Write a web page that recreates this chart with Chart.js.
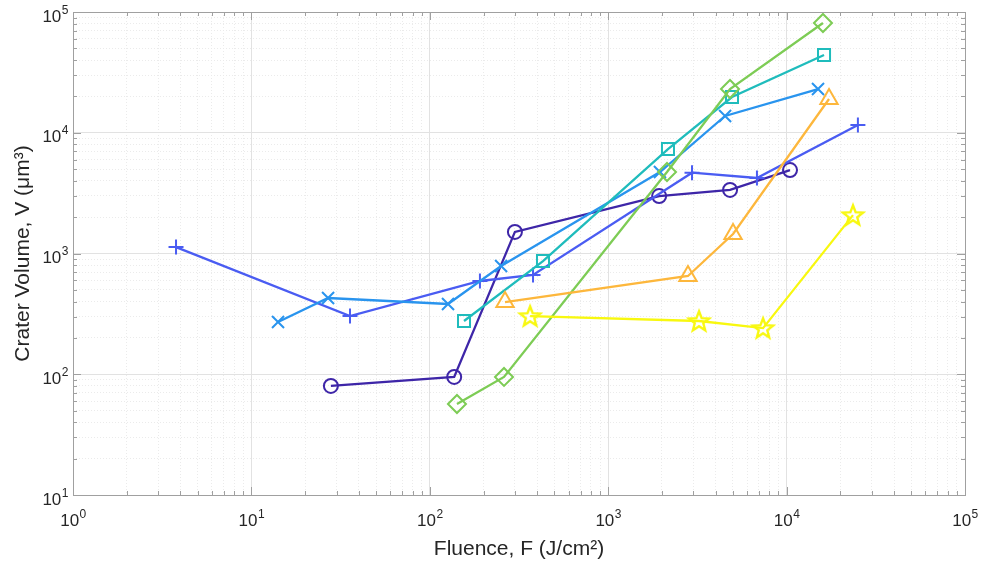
<!DOCTYPE html>
<html>
<head>
<meta charset="utf-8">
<script src="https://cdn.jsdelivr.net/npm/chart.js@4.4.0/dist/chart.umd.min.js"></script>
<style>
  body { margin: 0; background: #fff; }
  #wrap { width: 984px; height: 569px; }
</style>
</head>
<body>
<div id="wrap"><canvas id="chart" width="984" height="569"></canvas></div>
<script>
// values
let circleX = [27.9, 137, 300, 1930, 4820, 10450];
let circleY = [80, 95, 1510, 2990, 3360, 4910];

let plusX = [3.78, 35.7, 191, 379, 2950, 6820, 25100];
let plusY = [1130, 303, 592, 664, 4670, 4220, 11600];

let crossX = [14.1, 26.9, 126.5, 251, 1950, 4520, 15000];
let crossY = [271, 428, 382, 787, 4730, 13770, 23000];

let squareX = [155.5, 431, 2163, 4943, 16210];
let squareY = [276, 866, 7330, 19770, 44050];

let diamondX = [142, 260.6, 2136, 4817, 15990];
let diamondY = [56.7, 95, 4730, 23040, 81100];

let triangleX = [264, 2800, 5010, 17290];
let triangleY = [396, 651, 1450, 19030];

let starX = [365, 3230, 7380, 23560];
let starY = [303, 276, 241, 2080];

// tick labels are 10 with an exponent
let xTickValues = [1, 10, 100, 1000, 10000, 100000];
let xTickExps = ["0", "1", "2", "3", "4", "5"];
let yTickValues = [10, 100, 1000, 10000, 100000];
let yTickExps = ["1", "2", "3", "4", "5"];

const FONT = "'Liberation Sans', Arial, Helvetica, sans-serif";
const AXIS = "#a0a0a0";
const TEXT = "#262626";

function toPoints(xs, ys) {
  return xs.map((x, i) => ({x: x, y: ys[i]}));
}

function isMajor(v) {
  let l = Math.log10(v);
  return Math.abs(l - Math.round(l)) < 1e-6;
}

// 1..9 x 10^n ticks for each decade
function decadeTicks(lo, hi) {
  let out = [];
  for (let e = Math.round(Math.log10(lo)); e < Math.round(Math.log10(hi)); e++) {
    for (let s = 1; s < 10; s++) out.push({value: s * Math.pow(10, e)});
  }
  out.push({value: hi});
  return out;
}

function starMarker(color) {
  let c = document.createElement("canvas");
  c.width = 26; c.height = 26;
  let g = c.getContext("2d");
  g.strokeStyle = color;
  g.lineWidth = 2.4;
  g.lineJoin = "miter";
  g.beginPath();
  for (let i = 0; i < 10; i++) {
    let r = i % 2 === 0 ? 10.5 : 4.5;
    let a = -Math.PI / 2 + i * Math.PI / 5;
    let px = 13 + r * Math.cos(a), py = 13.8 + r * Math.sin(a);
    if (i === 0) g.moveTo(px, py); else g.lineTo(px, py);
  }
  g.closePath();
  g.stroke();
  return c;
}

function series(label, xs, ys, color, style, radius) {
  return {
    label: label,
    data: toPoints(xs, ys),
    showLine: true,
    borderColor: color,
    borderWidth: 2.3,
    pointStyle: style,
    pointRadius: radius,
    pointBorderWidth: 2,
    pointBorderColor: color,
    pointBackgroundColor: "rgba(0,0,0,0)",
    pointHoverRadius: radius,
    tension: 0
  };
}

let datasets = [
  series("o", circleX, circleY, "#3e26a8", "circle", 7),
  series("+", plusX, plusY, "#4a5cf2", "cross", 7.5),
  series("x", crossX, crossY, "#2994ee", "crossRot", 8.5),
  series("square", squareX, squareY, "#1fbcbc", "rect", 8.5),
  series("diamond", diamondX, diamondY, "#7dcc55", "rectRot", 9),
  series("triangle", triangleX, triangleY, "#fdb73c", "triangle", 10),
  series("star", starX, starY, "#f8f80f", starMarker("#f8f80f"), 13)
];
datasets.forEach((d, i) => d.order = datasets.length - i);

function drawPow(ctx, x, y, exp, align) {
  ctx.font = "17px " + FONT;
  let wb = ctx.measureText("10").width;
  ctx.font = "12px " + FONT;
  let we = ctx.measureText(exp).width;
  let left = align === "right" ? x - wb - we : x - (wb + we) / 2;
  ctx.font = "17px " + FONT;
  ctx.fillText("10", left, y);
  ctx.font = "12px " + FONT;
  ctx.fillText(exp, left + wb + 0.5, y - 8);
}

const boxPlugin = {
  id: "box",
  afterDraw(chart) {
    let ctx = chart.ctx;
    let a = chart.chartArea;
    let xs = chart.scales.x, ys = chart.scales.y;
    ctx.save();
    ctx.strokeStyle = AXIS;
    ctx.lineWidth = 1;
    ctx.beginPath();
    xs.ticks.forEach(t => {
      let p = Math.round(xs.getPixelForValue(t.value)) + 0.5;
      let len = isMajor(t.value) ? 8 : 4;
      ctx.moveTo(p, a.bottom); ctx.lineTo(p, a.bottom - len);
      ctx.moveTo(p, a.top); ctx.lineTo(p, a.top + len);
    });
    ys.ticks.forEach(t => {
      let p = Math.round(ys.getPixelForValue(t.value)) + 0.5;
      let len = isMajor(t.value) ? 8 : 4;
      ctx.moveTo(a.left, p); ctx.lineTo(a.left + len, p);
      ctx.moveTo(a.right, p); ctx.lineTo(a.right - len, p);
    });
    ctx.stroke();
    ctx.strokeRect(Math.round(a.left) + 0.5, Math.round(a.top) + 0.5,
      Math.round(a.right - a.left), Math.round(a.bottom - a.top));

    // tick labels with raised exponents
    ctx.fillStyle = TEXT;
    ctx.textBaseline = "alphabetic";
    ctx.textAlign = "left";
    xTickValues.forEach((v, i) => {
      drawPow(ctx, xs.getPixelForValue(v), a.bottom + 31, xTickExps[i], "center");
    });
    yTickValues.forEach((v, i) => {
      drawPow(ctx, a.left - 5, ys.getPixelForValue(v) + 9.5, yTickExps[i], "right");
    });
    ctx.restore();
  }
};

function gridOpts() {
  return {
    drawTicks: false,
    color: c => (c.tick && isMajor(c.tick.value)) ? "#e2e2e2" : "#ebebeb",
    lineWidth: 1
  };
}

function borderOpts() {
  return {
    display: false,
    dash: c => (c.tick && isMajor(c.tick.value)) ? [] : [1, 2]
  };
}

new Chart(document.getElementById("chart"), {
  type: "scatter",
  data: {datasets: datasets},
  options: {
    responsive: false,
    animation: false,
    events: [],
    layout: {autoPadding: false, padding: {top: 12, right: 19, left: 0, bottom: 0}},
    plugins: {legend: {display: false}, tooltip: {enabled: false}},
    scales: {
      x: {
        type: "logarithmic",
        min: 1,
        max: 100000,
        afterFit: s => { s.height = 74; },
        afterBuildTicks: s => { s.ticks = decadeTicks(1, 100000); },
        grid: gridOpts(),
        border: borderOpts(),
        ticks: {display: false, autoSkip: false},
        title: {
          display: true,
          text: "Fluence, F (J/cm²)",
          color: TEXT,
          font: {family: FONT, size: 21},
          padding: {top: 0, bottom: 7}
        }
      },
      y: {
        type: "logarithmic",
        min: 10,
        max: 100000,
        afterFit: s => { s.width = 73; },
        afterBuildTicks: s => { s.ticks = decadeTicks(10, 100000); },
        grid: gridOpts(),
        border: borderOpts(),
        ticks: {display: false, autoSkip: false},
        title: {
          display: true,
          text: "Crater Volume, V (μm³)",
          color: TEXT,
          font: {family: FONT, size: 21},
          padding: {top: 11, bottom: 0}
        }
      }
    }
  },
  plugins: [boxPlugin]
});
</script>
</body>
</html>
